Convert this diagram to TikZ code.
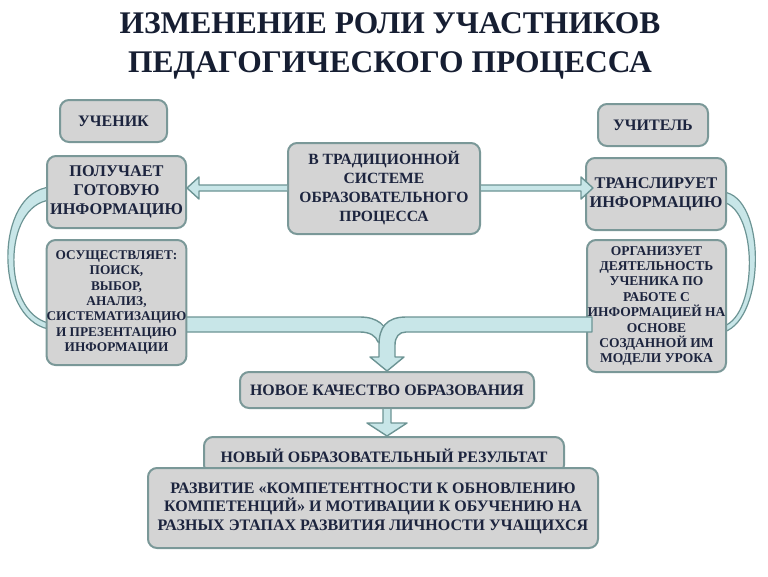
\documentclass[tikz,border=0pt]{standalone}
\usepackage{fontspec}
\setmainfont{Liberation Serif}
\usetikzlibrary{calc}
\definecolor{boxfill}{RGB}{212,212,212}
\definecolor{boxline}{RGB}{122,152,152}
\definecolor{arrfill}{RGB}{200,230,232}
\definecolor{arrline}{RGB}{108,148,148}
\definecolor{txt}{RGB}{28,36,62}
\definecolor{titlecol}{RGB}{22,30,50}
\newcommand{\fsz}[2]{\fontsize{#1}{#2}\selectfont}
\begin{document}
\begin{tikzpicture}[x=1pt,y=-1pt,
  box/.style={draw=boxline, fill=boxfill, line width=2pt, rounded corners=9pt,
    inner sep=0pt, align=center, text=txt},
  arr/.style={fill=arrfill, draw=arrline, line width=1.4pt, line join=round}]
\useasboundingbox (0,0) rectangle (768,576);

% title
\node[font=\bfseries\fsz{31.5}{39}, text=titlecol, align=center] (title) at (390,46)
  {ИЗМЕНЕНИЕ РОЛИ УЧАСТНИКОВ\\ПЕДАГОГИЧЕСКОГО ПРОЦЕССА};

\path (116.5,192) coordinate (pc) (116.5,302.5) coordinate (oc)
      (656,194) coordinate (tc) (656.5,306) coordinate (rc);

% crescents
\draw[arr, line width=1.2pt] ($(pc)+(-66,-5)$) .. controls (-6,192) and (-6,318) .. ($(oc)+(-68,26.5)$)
   -- ($(oc)+(-68,20.5)$) .. controls (2,312) and (2,205) .. ($(pc)+(-66,8)$) -- cycle;
\draw[arr, line width=1.2pt] ($(tc)+(67,-2)$) .. controls (766,196) and (766,318) .. ($(rc)+(67.5,26)$)
   -- ($(rc)+(67.5,20)$) .. controls (758,314) and (758,210) .. ($(tc)+(67,8)$) -- cycle;

% merging band (left)
\draw[arr] ($(oc)+(60,14.5)$) -- (360,317) .. controls (377,317) and (388,325) .. (390,342)
   -- (378,342) .. controls (376,336) and (370,332) .. (360,332) -- ($(oc)+(60,29.5)$) -- cycle;

% boxes
\node[box, font=\bfseries\fsz{16}{18}, minimum width=107pt, minimum height=42pt] (uchenik) at (113.5,121) {УЧЕНИК};
\node[box, font=\bfseries\fsz{16}{18}, minimum width=110pt, minimum height=42pt] (uchitel) at (653,125) {УЧИТЕЛЬ};
\node[box, font=\bfseries\fsz{16.3}{19}, minimum width=139pt, minimum height=72pt] (poluch) at (pc)
  {ПОЛУЧАЕТ\\ГОТОВУЮ\\ИНФОРМАЦИЮ};
\node[box, font=\bfseries\fsz{15.6}{19}, minimum width=192pt, minimum height=91pt] (trad) at (384,188.5)
  {В ТРАДИЦИОННОЙ\\СИСТЕМЕ\\ОБРАЗОВАТЕЛЬНОГО\\ПРОЦЕССА};
\node[box, font=\bfseries\fsz{16.3}{19}, minimum width=140pt, minimum height=72pt] (transl) at (tc)
  {ТРАНСЛИРУЕТ\\ИНФОРМАЦИЮ};
\node[box, font=\bfseries\fsz{13.3}{15.4}, minimum width=139pt, minimum height=125pt] (osush) at (oc)
  {ОСУЩЕСТВЛЯЕТ:\\ПОИСК,\\ВЫБОР,\\АНАЛИЗ,\\СИСТЕМАТИЗАЦИЮ\\И ПРЕЗЕНТАЦИЮ\\ИНФОРМАЦИИ};
\node[box, font=\bfseries\fsz{13.5}{15.4}, minimum width=139pt, minimum height=132pt] (organiz) at (rc)
  {ОРГАНИЗУЕТ\\ДЕЯТЕЛЬНОСТЬ\\УЧЕНИКА ПО\\РАБОТЕ С\\ИНФОРМАЦИЕЙ НА\\ОСНОВЕ\\СОЗДАННОЙ ИМ\\МОДЕЛИ УРОКА};
\node[box, font=\bfseries\fsz{15.9}{18}, minimum width=294pt, minimum height=36pt] (novoe) at (387,390)
  {НОВОЕ КАЧЕСТВО ОБРАЗОВАНИЯ};
\node[box, font=\bfseries\fsz{15.9}{18}, minimum width=360pt, minimum height=37pt] (novyi) at (384,455.5)
  {НОВЫЙ ОБРАЗОВАТЕЛЬНЫЙ РЕЗУЛЬТАТ};
\node[box, font=\bfseries\fsz{16}{18.5}, minimum width=450pt, minimum height=80pt] (razv) at (373,508)
  {РАЗВИТИЕ «КОМПЕТЕНТНОСТИ К ОБНОВЛЕНИЮ\\КОМПЕТЕНЦИЙ» И МОТИВАЦИИ К ОБУЧЕНИЮ НА\\РАЗНЫХ ЭТАПАХ РАЗВИТИЯ ЛИЧНОСТИ УЧАЩИХСЯ};

% right band + down arrow into novoe
\draw[arr] ($(organiz.west)+(6,11)$) -- (406,317) .. controls (386,317) and (379,328) .. (379,345)
   -- (379,357) -- (370,357) -- (novoe.north) -- (404,357) -- (395,357) -- (395,345)
   .. controls (395,337) and (399,332) .. (406,332) -- ($(organiz.west)+(6,26)$) -- cycle;

% horizontal hollow arrows
\coordinate (la) at (trad.west |- 0,188);
\coordinate (lb) at (poluch.east |- 0,188);
\draw[arr] ($(la)+(0,-3)$) -- ($(lb)+(12,-3)$) -- ($(lb)+(12,-11)$) -- (lb)
   -- ($(lb)+(12,11)$) -- ($(lb)+(12,3)$) -- ($(la)+(0,3)$);
\coordinate (ra) at (trad.east |- 0,188);
\coordinate (rb) at ($(transl.west |- 0,188)+(8,0)$);
\draw[arr] ($(ra)+(0,-3)$) -- ($(rb)+(-12,-3)$) -- ($(rb)+(-12,-11)$) -- (rb)
   -- ($(rb)+(-12,11)$) -- ($(rb)+(-12,3)$) -- ($(ra)+(0,3)$);

% arrow novoe -> novyi
\coordinate (na) at (novoe.south);
\coordinate (nb) at (novoe.south |- novyi.north);
\draw[arr] ($(na)+(-4,0)$) -- ($(na)+(-4,14)$) -- ($(na)+(-20,14)$) -- (nb)
   -- ($(na)+(20,14)$) -- ($(na)+(4,14)$) -- ($(na)+(4,0)$);
\end{tikzpicture}
\end{document}
